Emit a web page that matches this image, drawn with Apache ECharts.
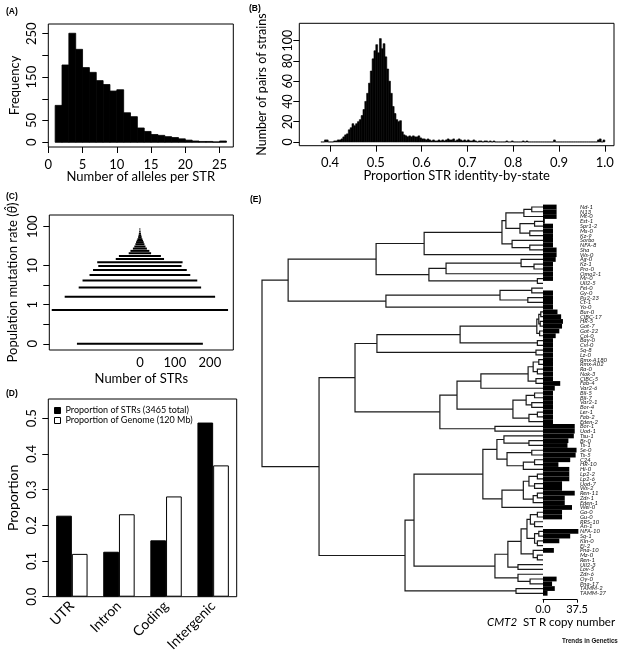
<!DOCTYPE html>
<html><head><meta charset="utf-8">
<script src="https://cdn.jsdelivr.net/npm/echarts@6/dist/echarts.min.js"></script>
<style>html,body{margin:0;padding:0;background:#fff}#c{width:620px;height:653px}</style>
</head><body><div id="c"></div>
<script>
// ---------------- Panel A: alleles per STR ----------------
const alleleBinStart = [1,2,3,4,5,6,7,8,9,10,11,12,13,14,15,16,17,18,19,20,21,22,23,24,25];
const alleleFrequency = [85,178,251,214,172,161,142,133,118,121,68,59,33,25,18,16,13,11,8,5,3,2,2,1,3];
const alleleTicks = [0,5,10,15,20,25];
const freqTicks = [0,50,100,150,200,250];
const freqLabels = [0,50,150,250];

// ---------------- Panel B: identity-by-state ----------------
const ibsFirstBin = 0.380;
const ibsBinWidth = 0.004;
const ibsCounts = [
  0,0,2,2,0,0,0,1,1,2,
  2,3,5,7,8,12,14,18,16,18,
  20,22,26,32,40,48,58,70,82,90,
  96,88,102,92,97,84,72,60,48,35,
  28,22,20,21,10,7,6,5,6,5,
  6,5,5,6,4,3,3,2,3,2,
  1,2,1,1,2,1,2,1,2,3,
  2,2,3,1,2,3,2,1,2,1,
  2,1,1,2,1,0,1,1,0,1,
  1,0,1,0,1,0,0,0,0,0,
  0,1,0,0,1,0,0,0,0,0,
  1,0,1,0,0,0,0,0,0,0,
  0,0,0,0,0,0,0,2,0,0,
  0,0,0,0,0,0,0,0,0,0,
  0,0,0,0,0,0,0,0,0,0,
  0,2,3,0,2
];
const ibsTicks = [0.4,0.5,0.6,0.7,0.8,0.9,1.0];
const pairTicks = [0,20,40,60,80,100];

// ---------------- Panel C: mutation rate ----------------
const thetaBins = [0,0.73,1.6,2.78,4.2,5.75,7.76,9.8,12.3,14.8,17.8,20.9,24,27.5,31,35.5,39.8,43.7,47.9,53.7,58.9,66,75.9,87];
const strsPerTheta = [180,252,215,175,164,144,134,119,122,69,60,32,27,20,16,13,11,9,7,5,4,3,2,1];
const strTicks = [0,100,200];
const thetaTicks = [0,0.316,1,3.16,10,100];
const thetaLabels = [0,1,10,100];

// ---------------- Panel D: genomic location ----------------
const regionCategories = ['UTR','Intron','Coding','Intergenic'];
const propSTRs = [0.227,0.126,0.158,0.488];
const propGenome = [0.120,0.231,0.281,0.368];
const propTicks = [0,0.1,0.2,0.3,0.4,0.5];

// ---------------- Panel E: tree + CMT2 STR copy number ----------------
const strainNames = ['Nd-1','N13','Mt-0','Est-1','Spr1-2','Ms-0','Kz-9','Sorbo','NFA-8','Sha',
  'Ws-0','Ag-0','Kz-1','Pro-0','Omo2-1','Mr-0','Ull2-5','Fei-0','Gy-0','Pu2-23',
  'Ct-1','Yo-0','Bur-0','CIBC-17','HR-5','Got-7','Got-22','Col-0','Bay-0','Cvi-0',
  'Sq-8','Lz-0','Rmx-A180','Rmx-A02','Ra-0','Nok-3','CIBC-5','Fab-4','Var2-6','Bil-5',
  'Bil-7','Var2-1','Bor-4','Ler-1','Fab-2','Eden-2','Bor-1','Uod-1','Tsu-1','Br-0',
  'Ts-1','Se-0','Ts-5','C24','HR-10','Hi-0','Lp2-2','Lp2-6','Uod-7','Ws-2',
  'Ren-11','Zdr-1','Eden-1','Wei-0','Ga-0','Gu-0','RRS-10','An-1','NFA-10','Sq-1',
  'Kin-0','Ei-2','Pna-10','Mz-0','Ren-1','Ull2-3','Lov-5','Zdr-6','Oy-0','Pna-17',
  'TAMM-2','TAMM-27'];
const cmt2CopyNumber = [15,15,15,2,11,11,11,11,11,15,
  15,14,11,11,11,11,0,0,11,11,
  11,11,16,20,22,21,18,14,11,11,
  11,11,11,11,11,11,11,19,13,11,
  11,11,11,11,11,11,35,35,34,28,
  27,37,36,30,17,29,29,29,21,21,
  35,24,24,32,21,21,0,0,39,30,
  18,0,12,0,0,0,0,0,15,10,
  13,5];
const copyTicks = [0,37.5];
// node = [height, upperChild, lowerChild]; leaf = 1-based strain index
const strainTree =
[1.000,
  [0.907,
    [0.594,
      [0.423,
        [0.146,
          [0.132, [0.068, [0.040, 1, 2], 3], [0.082, [0.030, 4, 5], [0.047, 6, 7]]],
          [0.110, 8, [0.047, 9, 10]]],
        11],
      [0.406,
        [0.345, [0.078, 12, [0.032, 13, 14]], 15],
        [0.020, 16, 17]]],
    [0.559,
      [0.153, [0.040, 18, 19], [0.054, 20, 21]],
      22]],
  [0.797,
    [0.669,
      [0.591,
        [0.295,
          [0.022, [0.015, [0.008, 23, 24], [0.010, 25, 26]], [0.012, 27, 28]],
          [0.020, 29, 30]],
        [0.025, 31, 32]],
      [0.367,
        [0.306,
          [0.221, [0.053, [0.035, [0.015, 33, 34], [0.020, 35, 36]], [0.025, 37, 38]], 39],
          [0.107, [0.060, [0.030, 40, 41], [0.040, 42, 43]], [0.050, [0.020, 44, 45], 46]]],
        [0.171, 47, 48]]],
    [0.491,
      [0.459,
        [0.214,
          [0.164,
            [0.139, 49, [0.050, 50, 51]],
            [0.128, [0.040, 52, 53], [0.070, [0.030, 54, 55], 56]]],
          [0.146,
            [0.070, [0.050, [0.020, 57, 58], [0.030, 59, 60]], [0.035, [0.020, 61, 62], 63]],
            64]],
        [0.171,
          [0.125,
            [0.078,
              [0.057, [0.045, [0.020, 65, 66], [0.030, 67, 68]], [0.030, [0.015, 69, 70], [0.020, 71, 72]]],
              [0.035, 73, [0.020, 74, 75]]],
            [0.089, 76, 77]],
          [0.089, 78, [0.046, 79, 80]]]],
      [0.096, 81, 82]]]];

// ---------------- build ----------------
const FONT = 'Lato, "Open Sans", sans-serif';
const BLACK = '#000';

const treeNodes = [];
function layoutTree(node) {
  if (typeof node === 'number') return {y: node, h: 0};
  const a = layoutTree(node[1]), b = layoutTree(node[2]);
  treeNodes.push([node[0], a.y, b.y, a.h, b.h]);
  return {y: (a.y + b.y) / 2, h: node[0]};
}
layoutTree(strainTree);

function txt(size, extra) { return Object.assign({fontFamily: FONT, fontSize: size, color: BLACK}, extra || {}); }
function tick(values, len) { return {show: true, customValues: values, length: len || 6, lineStyle: {color: BLACK, width: 1}}; }
const noLine = {show: false, onZero: false};

function histItem(lw) {
  return function (params, api) {
    const p0 = api.coord([api.value(0), api.value(2)]);
    const p1 = api.coord([api.value(1), 0]);
    return {type: 'rect', shape: {x: p0[0], y: p0[1], width: p1[0] - p0[0], height: p1[1] - p0[1]},
      style: {fill: BLACK, stroke: BLACK, lineWidth: lw}};
  };
}

const gridBase = {show: true, borderColor: BLACK, borderWidth: 1, backgroundColor: 'transparent', containLabel: false, outerBoundsMode: 'none'};

const option = {
  animation: false,
  backgroundColor: '#fff',
  grid: [
    Object.assign({left: 48.3, top: 24, width: 185, height: 123}, gridBase),
    Object.assign({left: 299.3, top: 23.3, width: 314.7, height: 122.4}, gridBase),
    Object.assign({left: 49.3, top: 215, width: 184, height: 135}, gridBase),
    Object.assign({left: 48.3, top: 399, width: 188.4, height: 197.7}, gridBase),
    {left: 262, top: 204.6, width: 281, height: 391.1, show: false, containLabel: false, outerBoundsMode: 'none'},
    {left: 543, top: 204.6, width: 34, height: 391.1, show: false, containLabel: false, outerBoundsMode: 'none'}
  ],
  xAxis: [
    {gridIndex: 0, type: 'value', min: 0, max: 27, splitLine: {show: false}, axisLine: noLine,
      axisTick: tick(alleleTicks), axisLabel: txt(13, {customValues: alleleTicks, margin: 11}),
      name: 'Number of alleles per STR', nameLocation: 'middle', nameGap: 23, nameMoveOverlap: false, nameTextStyle: txt(13)},
    {gridIndex: 1, type: 'value', min: 0.333, max: 1.02, splitLine: {show: false}, axisLine: noLine,
      axisTick: tick(ibsTicks), axisLabel: txt(13, {customValues: ibsTicks, margin: 11, formatter: v => v.toFixed(1)}),
      name: 'Proportion STR identity-by-state', nameLocation: 'middle', nameGap: 24, nameMoveOverlap: false, nameTextStyle: txt(13)},
    {gridIndex: 2, type: 'value', min: -259, max: 267, splitLine: {show: false}, axisLine: noLine,
      axisTick: {show: false}, axisLabel: txt(13, {customValues: strTicks, margin: 6}),
      name: 'Number of STRs', nameLocation: 'middle', nameGap: 22, nameMoveOverlap: false, nameTextStyle: txt(13)},
    {gridIndex: 3, type: 'category', data: regionCategories, axisLine: noLine, axisTick: {show: false},
      axisLabel: txt(14, {rotate: 45, margin: 7, interval: 0})},
    {gridIndex: 4, type: 'value', min: 0, max: 1, inverse: true, show: false, axisLine: noLine},
    {gridIndex: 5, type: 'value', min: 0, max: 37.5, position: 'bottom', offset: 4, splitLine: {show: false},
      axisLine: {show: true, onZero: false, lineStyle: {color: BLACK, width: 1}},
      axisTick: tick(copyTicks, 3), axisLabel: txt(11, {customValues: copyTicks, margin: 4, formatter: v => v.toFixed(1)})}
  ],
  yAxis: [
    {gridIndex: 0, type: 'value', min: -10.8, max: 272.3, splitLine: {show: false}, axisLine: noLine,
      axisTick: tick(freqTicks), axisLabel: txt(13, {customValues: freqLabels, rotate: 90, margin: 10}),
      name: 'Frequency', nameLocation: 'middle', nameGap: 27, nameMoveOverlap: false, nameTextStyle: txt(13)},
    {gridIndex: 1, type: 'value', min: -3.7, max: 117.1, splitLine: {show: false}, axisLine: noLine,
      axisTick: tick(pairTicks), axisLabel: txt(12.5, {customValues: pairTicks, rotate: 90, margin: 5}),
      name: 'Number of pairs of strains', nameLocation: 'middle', nameGap: 31, nameMoveOverlap: false, nameTextStyle: txt(12.5)},
    {gridIndex: 2, type: 'value', min: -1.16, max: 2.3, splitLine: {show: false}, axisLine: noLine,
      axisTick: tick(thetaTicks.map(t => t > 0 ? Math.log10(t) : -1)),
      axisLabel: txt(13, {customValues: thetaLabels.map(t => t > 0 ? Math.log10(t) : -1), rotate: 90, margin: 10,
        formatter: v => v <= -1 ? '0' : String(Math.round(Math.pow(10, v)))}),
      name: 'Population mutation rate ({i|θ̂})', nameLocation: 'middle', nameGap: 30, nameMoveOverlap: false,
      nameTextStyle: txt(13, {rich: {i: {fontFamily: FONT, fontSize: 13, fontStyle: 'italic', color: BLACK}}})},
    {gridIndex: 3, type: 'value', min: 0, max: 0.554, splitLine: {show: false}, axisLine: noLine,
      axisTick: tick(propTicks), axisLabel: txt(13, {customValues: propTicks, rotate: 90, margin: 10, formatter: v => v.toFixed(1)}),
      name: 'Proportion', nameLocation: 'middle', nameGap: 28, nameMoveOverlap: false, nameTextStyle: txt(14)},
    {gridIndex: 4, type: 'value', min: 0.5, max: 82.5, inverse: true, show: false, axisLine: noLine},
    {gridIndex: 5, type: 'category', data: strainNames, inverse: true, position: 'right',
      axisLine: noLine, axisTick: {show: false},
      axisLabel: txt(6, {interval: 0, margin: 3, fontStyle: 'italic', color: '#222'})}
  ],
  legend: {
    left: 49, top: 401, orient: 'vertical', itemWidth: 6, itemHeight: 6, itemGap: 1, selectedMode: false,
    textStyle: txt(9),
    data: [
      {name: 'Proportion of STRs (3465 total)', icon: 'rect', itemStyle: {color: BLACK, borderColor: BLACK, borderWidth: 1}},
      {name: 'Proportion of Genome (120 Mb)', icon: 'rect', itemStyle: {color: '#fff', borderColor: BLACK, borderWidth: 1}}
    ]
  },
  series: [
    {type: 'custom', xAxisIndex: 0, yAxisIndex: 0, renderItem: histItem(0.8),
      data: alleleBinStart.map((s, i) => [s, s + 1, alleleFrequency[i]])},
    {type: 'custom', xAxisIndex: 1, yAxisIndex: 1, renderItem: histItem(0.6),
      data: ibsCounts.map((c, k) => [ibsFirstBin + k * ibsBinWidth, ibsFirstBin + (k + 1) * ibsBinWidth, c])},
    {type: 'custom', xAxisIndex: 2, yAxisIndex: 2, renderItem: function (params, api) {
        const n = api.value(0), y = api.value(1);
        const a = api.coord([-n, y]), b = api.coord([n, y]);
        return {type: 'line', shape: {x1: a[0], y1: a[1], x2: b[0], y2: b[1]}, style: {stroke: BLACK, lineWidth: 2}};
      },
      data: strsPerTheta.map((n, i) => [n, thetaBins[i] > 0 ? Math.log10(thetaBins[i]) : -1])},
    {type: 'bar', name: 'Proportion of STRs (3465 total)', xAxisIndex: 3, yAxisIndex: 3, data: propSTRs,
      barGap: '0%', barCategoryGap: '33.3%', itemStyle: {color: BLACK, borderColor: BLACK, borderWidth: 1}},
    {type: 'bar', name: 'Proportion of Genome (120 Mb)', xAxisIndex: 3, yAxisIndex: 3, data: propGenome,
      barGap: '0%', barCategoryGap: '33.3%', itemStyle: {color: '#fff', borderColor: BLACK, borderWidth: 1}},
    {type: 'custom', xAxisIndex: 4, yAxisIndex: 4, renderItem: function (params, api) {
        const p1 = api.coord([api.value(3), api.value(1)]);
        const p2 = api.coord([api.value(0), api.value(1)]);
        const p3 = api.coord([api.value(0), api.value(2)]);
        const p4 = api.coord([api.value(4), api.value(2)]);
        return {type: 'polyline', shape: {points: [p1, p2, p3, p4]}, style: {stroke: '#1a1a1a', lineWidth: 1.2, fill: null}};
      },
      data: treeNodes},
    {type: 'custom', xAxisIndex: 5, yAxisIndex: 5, z: 5, renderItem: function (params, api) {
        const a = api.coord([0, api.value(1)]);
        const b = api.coord([api.value(0), api.value(1)]);
        const band = api.size([0, 1])[1];
        return {type: 'rect', shape: {x: a[0], y: a[1] - band / 2, width: b[0] - a[0], height: band},
          style: {fill: BLACK}};
      },
      data: cmt2CopyNumber.map((v, i) => [v, i])}
  ],
  graphic: [
    {type: 'text', left: 6, top: 7, style: {text: '(A)', fontFamily: '"Liberation Sans"', fontWeight: 'bold', fontSize: 8.5, fill: BLACK}},
    {type: 'text', left: 249, top: 4, style: {text: '(B)', fontFamily: '"Liberation Sans"', fontWeight: 'bold', fontSize: 8.5, fill: BLACK}},
    {type: 'text', left: 6, top: 192, style: {text: '(C)', fontFamily: '"Liberation Sans"', fontWeight: 'bold', fontSize: 8.5, fill: BLACK}},
    {type: 'text', left: 6, top: 389, style: {text: '(D)', fontFamily: '"Liberation Sans"', fontWeight: 'bold', fontSize: 8.5, fill: BLACK}},
    {type: 'text', left: 250, top: 195, style: {text: '(E)', fontFamily: '"Liberation Sans"', fontWeight: 'bold', fontSize: 8.5, fill: BLACK}},
    {type: 'text', left: 487, top: 616, style: {text: '{i|CMT2}  ST R copy number', fontFamily: FONT, fontSize: 11.5, fill: BLACK,
      rich: {i: {fontFamily: FONT, fontSize: 11.5, fontStyle: 'italic', fill: BLACK}}}},
    {type: 'text', x: 562, y: 637, scaleX: 0.78, style: {text: 'Trends in Genetics', fontFamily: '"Liberation Sans"', fontWeight: 'bold', fontSize: 8, fill: '#111'}}
  ]
};

const chart = echarts.init(document.getElementById('c'), null, {renderer: 'canvas', width: 620, height: 653});
chart.setOption(option);
</script>
</body></html>
